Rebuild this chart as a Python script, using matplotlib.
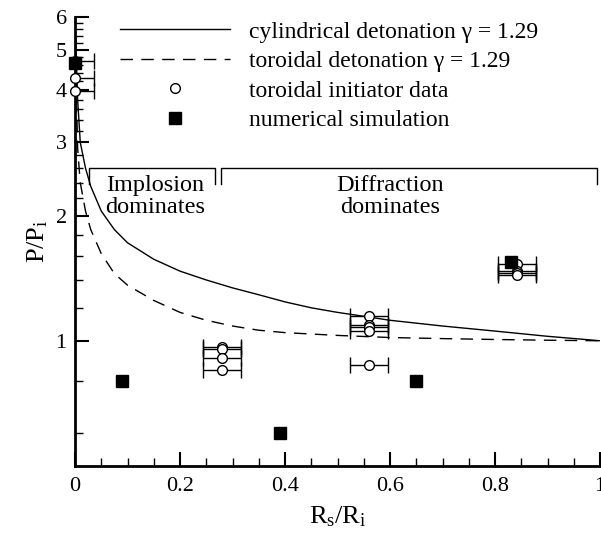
import numpy as np
import matplotlib
matplotlib.use('Agg')
import matplotlib.pyplot as plt
from matplotlib.ticker import FixedLocator, FixedFormatter, MultipleLocator

plt.rcParams['font.family'] = ['Liberation Serif', 'DejaVu Serif']
plt.rcParams['mathtext.fontset'] = 'custom'
plt.rcParams['mathtext.rm'] = 'Liberation Serif'

# curves
cyl_x = [0.001, 0.005, 0.01, 0.02, 0.03, 0.05, 0.075, 0.1, 0.15, 0.2, 0.25,
         0.3, 0.35, 0.4, 0.45, 0.5, 0.55, 0.6, 0.7, 0.8, 0.9, 1.0]
cyl_y = [5.5, 3.8, 3.0, 2.6, 2.35, 2.05, 1.85, 1.72, 1.57, 1.47, 1.40,
         1.34, 1.29, 1.24, 1.20, 1.17, 1.145, 1.12, 1.085, 1.055, 1.025, 1.0]
tor_x = [0.001, 0.005, 0.01, 0.02, 0.03, 0.05, 0.075, 0.1, 0.15, 0.2, 0.25,
         0.3, 0.35, 0.4, 0.5, 0.6, 0.7, 0.8, 0.9, 1.0]
tor_y = [4.8, 2.9, 2.4, 2.05, 1.85, 1.62, 1.45, 1.36, 1.25, 1.17, 1.12,
         1.085, 1.06, 1.046, 1.03, 1.018, 1.012, 1.007, 1.003, 1.0]

# toroidal initiator data
exp_x = [0.0, 0.0, 0.0, 0.28, 0.28, 0.28, 0.28, 0.56, 0.56, 0.56, 0.56, 0.56,
         0.842, 0.842, 0.842, 0.842]
exp_y = [4.7, 4.29, 3.99, 0.967, 0.955, 0.91, 0.851, 1.15, 1.09, 1.079, 1.056, 0.873,
         1.53, 1.47, 1.455, 1.44]
exp_xerr = 0.036

# numerical simulation
sim_x = [0.0, 0.089, 0.39, 0.65, 0.83]
sim_y = [4.66, 0.8, 0.6, 0.8, 1.55]

fig = plt.figure(figsize=(6.01, 5.35), dpi=100)
ax = fig.add_axes([75 / 601, 69 / 535, 525 / 601, 449 / 535])

ax.plot(cyl_x, cyl_y, color='black', lw=1.0, label='cylindrical detonation γ = 1.29')
ax.plot(tor_x, tor_y, color='black', lw=1.0, dashes=(9, 6),
        label='toroidal detonation γ = 1.29')

ax.errorbar(exp_x, exp_y, xerr=exp_xerr, fmt='none', ecolor='black',
            elinewidth=1.0, capsize=5.5, capthick=1.0)
ax.plot(exp_x, exp_y, 'o', ms=7, mfc='white', mec='black', mew=1.0,
        clip_on=False, label='toroidal initiator data', zorder=4)
ax.plot(sim_x, sim_y, 's', ms=8, mfc='black', mec='black',
        clip_on=False, label='numerical simulation', zorder=5)

ax.set_yscale('log')
ax.set_xlim(0, 1)
ax.set_ylim(0.5, 6)

ax.yaxis.set_major_locator(FixedLocator([1, 2, 3, 4, 5, 6]))
ax.yaxis.set_major_formatter(FixedFormatter(['1', '2', '3', '4', '5', '6']))
minors = [v for v in np.arange(0.6, 6.0, 0.2) if abs(v - round(v)) > 0.01]
ax.yaxis.set_minor_locator(FixedLocator(minors))
ax.yaxis.set_minor_formatter(FixedFormatter([''] * len(minors)))
ax.xaxis.set_minor_locator(MultipleLocator(0.05))
ax.set_xticks([0, 0.2, 0.4, 0.6, 0.8, 1.0])
ax.set_xticklabels(['0', '0.2', '0.4', '0.6', '0.8', '1'])

ax.tick_params(which='major', direction='in', length=10, width=1.5, labelsize=16, pad=6)
ax.tick_params(which='minor', direction='in', length=6, width=1.0)
ax.tick_params(axis='x', which='major', pad=8)
for s in ['top', 'right']:
    ax.spines[s].set_visible(False)
for s in ['left', 'bottom']:
    ax.spines[s].set_linewidth(2)

ax.set_xlabel(r'$\mathrm{R_s/R_i}$', fontsize=19, labelpad=6)
ax.set_ylabel(r'$\mathrm{P/P_i}$', fontsize=19, labelpad=4)

# brackets
yb, yt = 2.6, 2.38
ax.plot([0.027, 0.027, 0.267, 0.267], [yt, yb, yb, yt], color='black', lw=1.0)
ax.plot([0.278, 0.278, 0.994, 0.994], [yt, yb, yb, yt], color='black', lw=1.0)
ax.text(0.152, 2.22, 'Implosion\ndominates', ha='center', va='center',
        fontsize=17.5, linespacing=1.05)
ax.text(0.6, 2.22, 'Diffraction\ndominates', ha='center', va='center',
        fontsize=17.5, linespacing=1.05)

ax.legend(loc='upper left', bbox_to_anchor=(120 / 601, 1 - 21 / 535),
          bbox_transform=fig.transFigure, frameon=False, fontsize=17,
          handlelength=4.66, handletextpad=0.8, labelspacing=0.34,
          borderpad=0, borderaxespad=0, numpoints=1)

fig.savefig('out.png', dpi=100)
